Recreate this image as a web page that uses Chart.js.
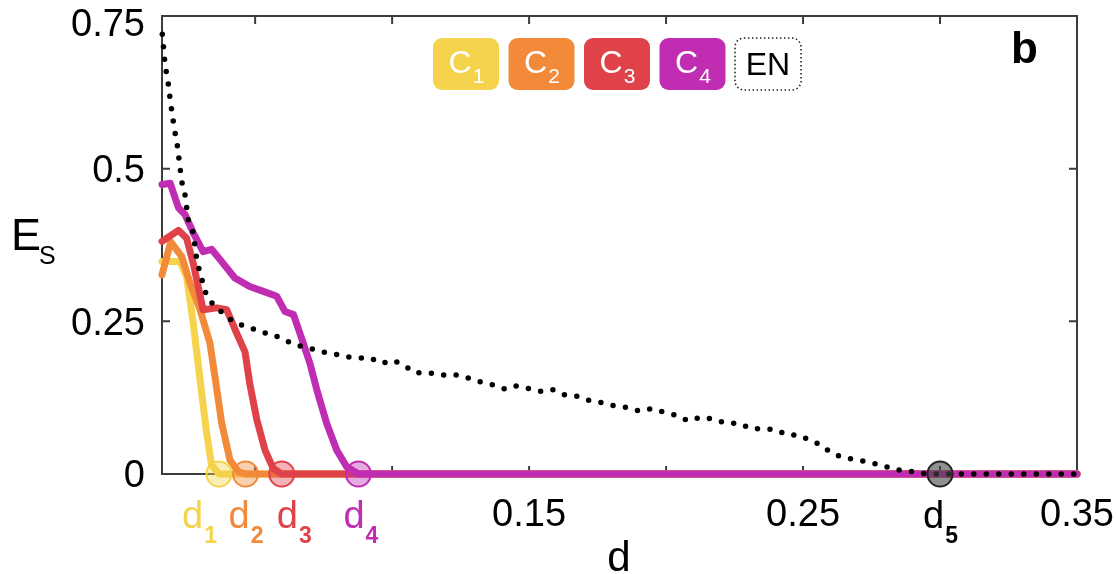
<!DOCTYPE html>
<html>
<head>
<meta charset="utf-8">
<script src="https://cdn.jsdelivr.net/npm/chart.js@4.4.1/dist/chart.umd.min.js"></script>
<style>
  html, body { margin: 0; padding: 0; background: #fff; }
  #wrap { width: 1116px; height: 574px; }
</style>
</head>
<body>
<div id="wrap"><canvas id="esChart" width="1116" height="574"></canvas></div>
<script>
// E_S against d (panel b)
const seriesNames = ["C1", "C2", "C3", "C4", "EN"];

const c1D = [0.016, 0.0226, 0.025, 0.0274, 0.0299, 0.0323, 0.0341, 0.0368, 0.35];
const c1E = [0.348, 0.348, 0.323, 0.247, 0.154, 0.067, 0.015, 0, 0];

const c2D = [0.016, 0.0192, 0.0232, 0.0262, 0.0299, 0.0335, 0.0353, 0.0378, 0.0408, 0.0438, 0.0465, 0.35];
const c2E = [0.326, 0.38, 0.356, 0.313, 0.269, 0.214, 0.16, 0.083, 0.023, 0.004, 0, 0];

const c3D = [0.016, 0.022, 0.025, 0.0274, 0.031, 0.036, 0.0396, 0.0432, 0.0463, 0.048, 0.0506, 0.0536, 0.0566, 0.0597, 0.35];
const c3E = [0.381, 0.399, 0.386, 0.345, 0.269, 0.272, 0.269, 0.231, 0.2, 0.149, 0.089, 0.039, 0.009, 0, 0];

const c4D = [0.016, 0.019, 0.022, 0.0244, 0.0274, 0.031, 0.0341, 0.0372, 0.0426, 0.048, 0.053, 0.0579, 0.0609, 0.064,
  0.0676, 0.07, 0.0725, 0.0761, 0.0798, 0.0834, 0.0877, 0.35];
const c4E = [0.474, 0.476, 0.436, 0.425, 0.395, 0.364, 0.368, 0.351, 0.321, 0.307, 0.299, 0.291, 0.266, 0.261,
  0.214, 0.181, 0.138, 0.083, 0.039, 0.012, 0, 0];

const enD = [0.0161, 0.0166, 0.017, 0.0177, 0.0186, 0.019, 0.0198, 0.0204, 0.0214, 0.022, 0.0226, 0.0232, 0.0244,
  0.0256, 0.0274, 0.0287, 0.0299, 0.0311, 0.0323, 0.0353, 0.039, 0.0426, 0.0475, 0.0518, 0.0566, 0.0609, 0.0652,
  0.0698, 0.0742, 0.0785, 0.0834, 0.0877, 0.0919, 0.0962, 0.1004, 0.1047, 0.1083, 0.1132, 0.118, 0.1226, 0.1272,
  0.1321, 0.1366, 0.1412, 0.1452, 0.1497, 0.1546, 0.1586, 0.1628, 0.1671, 0.1716, 0.1762, 0.1807, 0.1856, 0.1902,
  0.1947, 0.1993, 0.2038, 0.2081, 0.2127, 0.2172, 0.2218, 0.2267, 0.2312, 0.2354, 0.2397, 0.2442, 0.2482, 0.2529,
  0.2567, 0.2604, 0.2649, 0.2695, 0.2744, 0.2789, 0.2835, 0.2884, 0.2929, 0.2975, 0.35];
const enE = [0.72, 0.696, 0.676, 0.654, 0.631, 0.61, 0.589, 0.567, 0.545, 0.523, 0.501, 0.479, 0.457,
  0.416, 0.395, 0.351, 0.329, 0.31, 0.291, 0.274, 0.261, 0.247, 0.241, 0.233, 0.228, 0.219, 0.211,
  0.206, 0.2, 0.197, 0.192, 0.19, 0.19, 0.181, 0.186, 0.177, 0.166, 0.166, 0.162, 0.163, 0.158,
  0.151, 0.146, 0.139, 0.144, 0.14, 0.135, 0.138, 0.13, 0.128, 0.121, 0.117, 0.112, 0.109, 0.103,
  0.107, 0.101, 0.096, 0.087, 0.093, 0.09, 0.083, 0.083, 0.074, 0.074, 0.073, 0.064, 0.064, 0.055,
  0.047, 0.034, 0.027, 0.023, 0.019, 0.014, 0.007, 0.005, 0.001, 0, 0];

// thresholds d1..d5 where each curve hits zero
const dValues = [0.0368, 0.0465, 0.0597, 0.0877, 0.30];
const dSubs = ["1", "2", "3", "4", "5"];

const xTickValues = [0.05, 0.1, 0.15, 0.2, 0.25, 0.3, 0.35];
const xTickLabels = ["0.15", "0.25", "0.35"];
const xTickLabelValues = [0.15, 0.25, 0.35];
const yTickValues = [0, 0.25, 0.5, 0.75];
const yTickLabels = ["0", "0.25", "0.5", "0.75"];

const colors = ["#f5d34c", "#f28a3a", "#e0424a", "#c02db2", "#000000"];
const markerFill = ["rgba(245,211,76,0.4)", "rgba(242,138,58,0.4)", "rgba(224,66,74,0.4)",
  "rgba(192,45,178,0.4)", "rgba(70,70,70,0.6)"];
const markerEdge = ["#f5d34c", "#f28a3a", "#e0424a", "#c02db2", "#222222"];

const FONT = '"Liberation Sans", Arial, Helvetica, sans-serif';

function pts(xs, ys) {
  return xs.map((v, i) => ({ x: v, y: ys[i] }));
}

// text with a subscript, centred on cx
function subText(ctx, base, sub, cx, baseY, font, subFont, subDy, color) {
  ctx.font = font;
  const w1 = ctx.measureText(base).width;
  ctx.font = subFont;
  const w2 = ctx.measureText(sub).width;
  const left = cx - (w1 + w2) / 2;
  ctx.fillStyle = color;
  ctx.font = font;
  ctx.textAlign = "left";
  ctx.textBaseline = "alphabetic";
  ctx.fillText(base, left, baseY);
  ctx.font = subFont;
  ctx.fillText(sub, left + w1 + 1, baseY + subDy);
}

const decorPlugin = {
  id: "decor",
  beforeDatasetsDraw(chart) {
    const { ctx, chartArea: a, scales: { x, y } } = chart;
    ctx.save();
    ctx.strokeStyle = "#3c3c3c";
    ctx.lineWidth = 2;
    ctx.strokeRect(a.left, a.top, a.right - a.left, a.bottom - a.top);
    ctx.beginPath();
    xTickValues.forEach((v) => {
      const px = x.getPixelForValue(v);
      ctx.moveTo(px, a.bottom);
      ctx.lineTo(px, a.bottom - 8);
      ctx.moveTo(px, a.top);
      ctx.lineTo(px, a.top + 8);
    });
    yTickValues.forEach((v) => {
      const py = y.getPixelForValue(v);
      ctx.moveTo(a.left, py);
      ctx.lineTo(a.left + 8, py);
      ctx.moveTo(a.right, py);
      ctx.lineTo(a.right - 8, py);
    });
    ctx.stroke();
    ctx.restore();
  },
  afterDraw(chart) {
    const { ctx, chartArea: a, scales: { x, y } } = chart;
    ctx.save();

    // y tick labels
    ctx.font = "38px " + FONT;
    ctx.fillStyle = "#000";
    ctx.textAlign = "right";
    ctx.textBaseline = "middle";
    yTickValues.forEach((v, i) => {
      const py = Math.max(y.getPixelForValue(v) + 3, a.top + 10);
      ctx.fillText(yTickLabels[i], a.left - 17, py);
    });

    // x tick labels
    ctx.textAlign = "center";
    ctx.textBaseline = "alphabetic";
    xTickLabelValues.forEach((v, i) => {
      ctx.fillText(xTickLabels[i], x.getPixelForValue(v), 526);
    });

    // d1..d5 labels
    const shift = [-20, 0, 12, 2, 0];
    dValues.forEach((v, i) => {
      const c = i < 4 ? colors[i] : "#000";
      subText(ctx, "d", dSubs[i], x.getPixelForValue(v) + shift[i], 528,
        "38px " + FONT, "bold 23px " + FONT, 15, c);
    });

    // axis titles
    ctx.font = "42px " + FONT;
    ctx.fillStyle = "#000";
    ctx.textAlign = "center";
    ctx.fillText("d", 619, 571);
    ctx.textAlign = "left";
    ctx.font = "45px " + FONT;
    ctx.fillText("E", 11, 250);
    ctx.font = "25px " + FONT;
    ctx.fillText("S", 39, 264);

    // panel letter
    ctx.font = "bold 44px " + FONT;
    ctx.fillText("b", 1011, 63);

    // legend boxes
    const bx0 = 433, bw = 66, bh = 52, by = 38, pitch = 75.5;
    seriesNames.forEach((name, i) => {
      const bx = bx0 + i * pitch;
      ctx.beginPath();
      ctx.roundRect(bx, by, bw, bh, 9);
      if (name === "EN") {
        ctx.setLineDash([1.5, 2.5]);
        ctx.lineWidth = 1.6;
        ctx.strokeStyle = "#222";
        ctx.stroke();
        ctx.setLineDash([]);
        ctx.font = "32px " + FONT;
        ctx.fillStyle = "#000";
        ctx.textAlign = "center";
        ctx.fillText("EN", bx + bw / 2, 75);
      } else {
        ctx.fillStyle = colors[i];
        ctx.fill();
        subText(ctx, "C", name.slice(1), bx + bw / 2, 73,
          "32px " + FONT, "21px " + FONT, 10, "#fff");
      }
    });
    ctx.restore();
  },
};

const lineStyle = (i) => ({
  borderColor: colors[i],
  borderWidth: 7,
  pointRadius: 0,
  tension: 0,
  borderJoinStyle: "round",
  borderCapStyle: "round",
  clip: false,
  fill: false,
});

new Chart(document.getElementById("esChart"), {
  type: "line",
  data: {
    datasets: [
      {
        label: "d",
        data: dValues.map((v) => ({ x: v, y: 0 })),
        showLine: false,
        pointRadius: 12.5,
        pointBorderWidth: 2,
        pointBackgroundColor: markerFill,
        pointBorderColor: markerEdge,
        clip: false,
        order: 0,
      },
      {
        label: seriesNames[4],
        data: pts(enD, enE),
        borderColor: "#000",
        borderWidth: 5.5,
        borderDash: [0, 12.5],
        borderCapStyle: "round",
        borderJoinStyle: "round",
        pointRadius: 0,
        tension: 0,
        clip: false,
        order: 1,
      },
      { label: seriesNames[3], data: pts(c4D, c4E), ...lineStyle(3), order: 2 },
      { label: seriesNames[2], data: pts(c3D, c3E), ...lineStyle(2), order: 3 },
      { label: seriesNames[1], data: pts(c2D, c2E), ...lineStyle(1), order: 4 },
      { label: seriesNames[0], data: pts(c1D, c1E), ...lineStyle(0), order: 5 },
    ],
  },
  options: {
    responsive: false,
    animation: false,
    events: [],
    layout: { padding: { left: 0, top: 16, right: 39, bottom: 0 } },
    plugins: {
      legend: { display: false },
      tooltip: { enabled: false },
    },
    scales: {
      x: {
        type: "linear",
        min: 0.016,
        max: 0.35,
        ticks: { display: false },
        grid: { display: false },
        border: { display: false },
        afterFit: (scale) => { scale.height = 100; },
      },
      y: {
        min: 0,
        max: 0.75,
        ticks: { display: false },
        grid: { display: false, drawTicks: false },
        border: { display: false },
        afterFit: (scale) => { scale.width = 162; },
      },
    },
  },
  plugins: [decorPlugin],
});
</script>
</body>
</html>
